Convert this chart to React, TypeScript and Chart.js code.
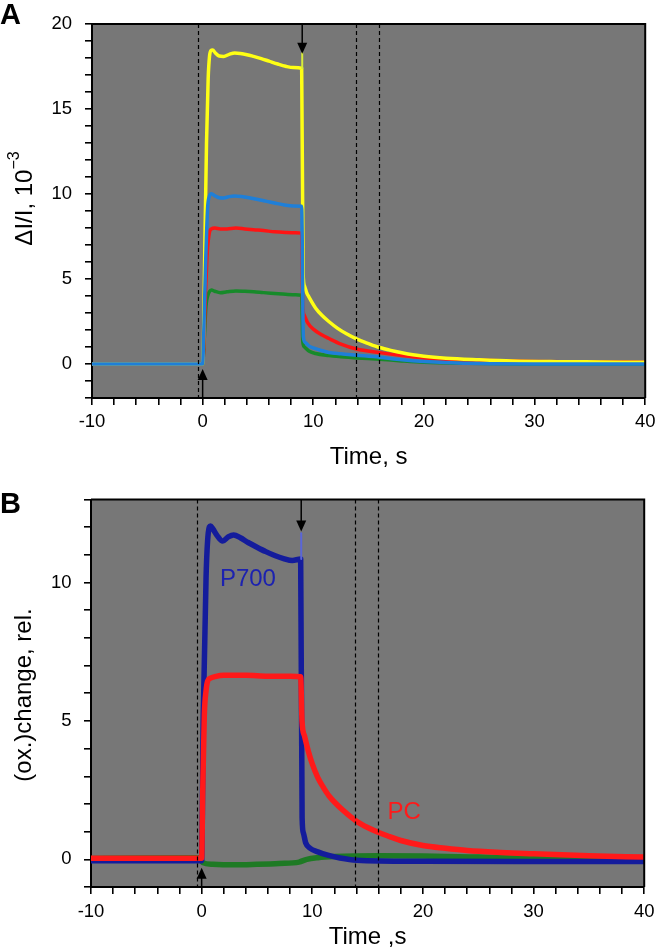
import { useEffect, useRef } from 'react';
import { Chart, registerables } from 'chart.js';

Chart.register(...registerables);

type P = [number, number];

const FONT = '"Liberation Sans", Arial, Helvetica, sans-serif';
const BG = '#777777';

// ---------- Panel A data (time s, ΔI/I ×10^-3) ----------
const yellowA: P[] = [
  [-10, 0], [0, 0], [0.08, 1.5], [0.2, 7], [0.35, 13], [0.5, 16.8], [0.62, 18.1], [0.75, 18.45],
  [0.9, 18.48], [1.15, 18.3], [1.5, 18.12], [1.9, 18.1], [2.4, 18.22], [2.9, 18.3], [3.4, 18.27],
  [4.0, 18.2], [4.6, 18.1], [5.3, 17.97], [6.0, 17.82], [6.8, 17.65], [7.5, 17.52], [8.2, 17.44],
  [8.95, 17.4], [9.08, 5.4], [9.2, 4.6], [9.4, 4.2], [9.6, 3.95], [10.2, 3.3], [10.8, 2.85],
  [11.4, 2.5], [12.2, 2.1], [13.0, 1.78], [13.9, 1.48], [15.0, 1.2], [16.0, 0.97], [17.0, 0.8],
  [18.0, 0.66], [19.0, 0.54], [20.0, 0.45], [22, 0.34], [25, 0.25], [28, 0.18], [32, 0.14],
  [36, 0.12], [40, 0.1],
];
const redA: P[] = [
  [-10, 0], [0, 0], [0.1, 1], [0.25, 4], [0.42, 6.6], [0.6, 7.7], [0.8, 7.95], [1.1, 8.0],
  [1.6, 7.95], [2.2, 7.95], [3.0, 8.0], [3.8, 7.95], [4.6, 7.9], [5.5, 7.85], [6.5, 7.78],
  [7.5, 7.74], [8.4, 7.72], [8.95, 7.7], [9.05, 3.4], [9.2, 2.85], [9.5, 2.42], [10.0, 2.05],
  [10.8, 1.7], [11.4, 1.5], [12.5, 1.17], [13.9, 0.88], [16, 0.67], [18, 0.5], [20, 0.36],
  [22, 0.28], [25, 0.22], [30, 0.15], [35, 0.12], [40, 0.11],
];
const blueA: P[] = [
  [-10, 0], [0, 0], [0.1, 1.8], [0.25, 5.5], [0.45, 9.2], [0.6, 9.85], [0.8, 10.02], [1.1, 9.9],
  [1.5, 9.78], [1.9, 9.77], [2.4, 9.85], [2.9, 9.88], [3.5, 9.85], [4.2, 9.78], [5.0, 9.68],
  [5.8, 9.57], [6.6, 9.46], [7.4, 9.36], [8.2, 9.3], [8.95, 9.28], [9.1, 1.6], [9.3, 1.25],
  [9.6, 1.07], [10.0, 0.95], [10.8, 0.78], [11.4, 0.68], [12.5, 0.6], [13.9, 0.52], [16, 0.4],
  [18, 0.25], [20, 0.15], [23, 0.06], [26, 0.02], [30, 0.0], [40, 0.0],
];
const greenA: P[] = [
  [-10, 0], [0, 0], [0.1, 0.9], [0.3, 3.4], [0.45, 4.0], [0.6, 4.25], [0.8, 4.35], [1.1, 4.28],
  [1.6, 4.2], [2.2, 4.25], [3.0, 4.3], [3.8, 4.28], [4.6, 4.25], [5.5, 4.2], [6.5, 4.15],
  [7.5, 4.1], [8.4, 4.07], [8.95, 4.05], [9.05, 1.3], [9.2, 1.0], [9.6, 0.76], [10.2, 0.62],
  [11.4, 0.5], [12.5, 0.43], [13.9, 0.36], [16, 0.28], [18, 0.18], [20, 0.1], [24, 0.04],
  [30, 0.0], [40, 0.0],
];
const spikeA: P[] = [[9.0, 17.4], [9.0, 18.3]];

// ---------- Panel B data (time s, (ox.)change rel.) ----------
const p700B: P[] = [
  [-10, -0.05], [0, -0.05], [0.15, 5.3], [0.4, 10.2], [0.6, 11.8], [0.8, 12.05], [1.0, 11.95],
  [1.4, 11.7], [1.9, 11.5], [2.4, 11.65], [2.9, 11.72], [3.5, 11.62], [4.2, 11.45], [5.0, 11.28],
  [5.8, 11.12], [6.6, 10.98], [7.4, 10.87], [8.2, 10.8], [8.95, 10.85], [9.08, 1.5], [9.2, 0.95],
  [9.4, 0.6], [9.8, 0.4], [10.5, 0.27], [11.4, 0.15], [12.5, 0.05], [14, -0.03], [20, -0.07],
  [30, -0.08], [40, -0.08],
];
const pcB: P[] = [
  [-10, 0.04], [0, 0.04], [0.1, 2.5], [0.24, 5.2], [0.4, 6.1], [0.55, 6.45], [0.8, 6.55],
  [1.2, 6.6], [2, 6.65], [4, 6.65], [6, 6.62], [8, 6.62], [8.95, 6.6], [9.07, 5.0], [9.3, 4.45],
  [9.65, 3.9], [10.0, 3.45], [10.5, 2.95], [11.0, 2.6], [11.5, 2.3], [12.7, 1.8], [14, 1.38],
  [15, 1.15], [16, 0.97], [17, 0.82], [18, 0.68], [20, 0.5], [22, 0.4], [24, 0.32], [27, 0.25],
  [30, 0.2], [35, 0.13], [40, 0.08],
];
const greenB: P[] = [
  [-10, 0.03], [-5, 0.05], [-0.2, 0.06], [0.1, -0.12], [1, -0.18], [3, -0.2], [5, -0.18],
  [7, -0.15], [8.8, -0.1], [9.5, 0.0], [10.5, 0.06], [12, 0.1], [16, 0.13], [20, 0.12],
  [25, 0.08], [30, 0.03], [40, 0.0],
];
const spikeB: P[] = [[9.0, 10.85], [9.0, 11.78]];

// ---------- axes / annotations ----------
const xLabeled = [-10, 0, 10, 20, 30, 40];
const yLabeledA = [0, 5, 10, 15, 20];
const yLabeledB = [0, 5, 10];
const dashedTimes = [-0.4, 13.9, 15.9];
const arrowsA = [{ x: 0, tip: -0.3, dir: 'up' }, { x: 9, tip: 18.25, dir: 'down' }];
const arrowsB = [{ x: 0, tip: -0.3, dir: 'up' }, { x: 9, tip: 11.85, dir: 'down' }];
const labelsB = [
  { text: 'P700', x: 1.65, y: 9.86, color: '#1c22b0' },
  { text: 'PC', x: 16.8, y: 1.45, color: '#ff1a1a' },
];

const toXY = (a: P[]) => a.map(([x, y]) => ({ x, y }));

function ds(data: P[], color: string, width: number, smooth = true) {
  return {
    data: toXY(data),
    borderColor: color,
    backgroundColor: color,
    borderWidth: width,
    showLine: true,
    pointRadius: 0,
    tension: 0,
    cubicInterpolationMode: smooth ? ('monotone' as const) : ('default' as const),
    fill: false,
    borderJoinStyle: 'round' as const,
    borderCapStyle: 'round' as const,
  };
}

type Opts = {
  datasets: any[];
  yMin: number;
  yMax: number;
  yLabeled: number[];
  padTop: number;
  padRight: number;
  yWidth: number;
  xHeight: number;
  xTitle: string;
  xTitlePad: number;
  xTickPad: number;
  yTickPad: number;
  yTitle: { text: string; size: number; rise: number }[];
  yTitleBase: number;
  yTitleCenter: number;
  letter: string;
  letterY: number;
  arrows: { x: number; tip: number; dir: string }[];
  labels: { text: string; x: number; y: number; color: string }[];
};

function makeChart(canvas: HTMLCanvasElement, o: Opts) {
  const plugin = {
    id: 'decor',
    beforeDraw(chart: any) {
      const { ctx, chartArea: a } = chart;
      ctx.save();
      ctx.fillStyle = BG;
      ctx.fillRect(a.left, a.top, a.right - a.left, a.bottom - a.top);
      ctx.restore();
    },
    afterDatasetsDraw(chart: any) {
      const { ctx, chartArea: a, scales } = chart;
      const xs = scales.x;
      const ys = scales.y;
      ctx.save();
      ctx.strokeStyle = '#000';
      ctx.lineWidth = 1.2;
      ctx.setLineDash([4, 3]);
      for (const t of dashedTimes) {
        const px = Math.round(xs.getPixelForValue(t)) + 0.5;
        ctx.beginPath();
        ctx.moveTo(px, a.top);
        ctx.lineTo(px, a.bottom);
        ctx.stroke();
      }
      ctx.setLineDash([]);
      ctx.fillStyle = '#000';
      ctx.lineWidth = 1.5;
      for (const ar of o.arrows) {
        const px = xs.getPixelForValue(ar.x);
        const tip = ys.getPixelForValue(ar.tip);
        const head = 11;
        const hw = 5;
        ctx.beginPath();
        if (ar.dir === 'up') {
          ctx.moveTo(px, a.bottom);
          ctx.lineTo(px, tip + head - 1);
        } else {
          ctx.moveTo(px, a.top);
          ctx.lineTo(px, tip - head + 1);
        }
        ctx.stroke();
        ctx.beginPath();
        if (ar.dir === 'up') {
          ctx.moveTo(px, tip);
          ctx.lineTo(px - hw, tip + head);
          ctx.lineTo(px + hw, tip + head);
        } else {
          ctx.moveTo(px, tip);
          ctx.lineTo(px - hw, tip - head);
          ctx.lineTo(px + hw, tip - head);
        }
        ctx.closePath();
        ctx.fill();
      }
      ctx.font = `24px ${FONT}`;
      ctx.textAlign = 'left';
      ctx.textBaseline = 'alphabetic';
      for (const lb of o.labels) {
        ctx.fillStyle = lb.color;
        ctx.fillText(lb.text, xs.getPixelForValue(lb.x), ys.getPixelForValue(lb.y));
      }
      ctx.restore();
    },
    afterDraw(chart: any) {
      const { ctx, chartArea: a } = chart;
      ctx.save();
      ctx.strokeStyle = '#000';
      ctx.lineWidth = 2;
      ctx.beginPath();
      ctx.moveTo(a.left, a.top);
      ctx.lineTo(a.right, a.top);
      ctx.lineTo(a.right, a.bottom);
      ctx.stroke();
      ctx.fillStyle = '#000';
      ctx.textAlign = 'left';
      ctx.textBaseline = 'alphabetic';
      let total = 0;
      const widths: number[] = [];
      for (const part of o.yTitle) {
        ctx.font = `${part.size}px ${FONT}`;
        const w = ctx.measureText(part.text).width;
        widths.push(w);
        total += w;
      }
      ctx.translate(o.yTitleBase, o.yTitleCenter);
      ctx.rotate(-Math.PI / 2);
      let x = -total / 2;
      o.yTitle.forEach((part, i) => {
        ctx.font = `${part.size}px ${FONT}`;
        ctx.fillText(part.text, x, -part.rise);
        x += widths[i];
      });
      const dpr = chart.currentDevicePixelRatio || 1;
      ctx.setTransform(dpr, 0, 0, dpr, 0, 0);
      ctx.font = `bold 29px ${FONT}`;
      ctx.fillText(o.letter, 0, o.letterY);
      ctx.restore();
    },
  };

  return new Chart(canvas, {
    type: 'scatter',
    data: { datasets: o.datasets },
    options: {
      animation: false,
      responsive: false,
      events: [],
      layout: { padding: { top: o.padTop, right: o.padRight, left: 0, bottom: 0 } },
      plugins: { legend: { display: false }, tooltip: { enabled: false } },
      scales: {
        x: {
          type: 'linear',
          position: 'bottom',
          min: -10,
          max: 40,
          afterFit: (s: any) => {
            s.height = o.xHeight;
          },
          ticks: {
            stepSize: 2,
            autoSkip: false,
            maxRotation: 0,
            padding: o.xTickPad,
            color: '#000',
            font: { family: FONT, size: 18.5 },
            callback: (v: any) => (xLabeled.includes(Number(v)) ? String(v) : ''),
          },
          grid: { drawOnChartArea: false, drawTicks: true, tickLength: 7, color: '#000', lineWidth: 1.6 },
          border: { display: true, color: '#000', width: 2 },
          title: {
            display: true,
            text: o.xTitle,
            color: '#000',
            font: { family: FONT, size: 24, lineHeight: 1 },
            padding: { top: 0, bottom: o.xTitlePad },
          },
        },
        y: {
          type: 'linear',
          position: 'left',
          min: o.yMin,
          max: o.yMax,
          afterFit: (s: any) => {
            s.width = o.yWidth;
          },
          ticks: {
            stepSize: 1,
            autoSkip: false,
            padding: o.yTickPad,
            color: '#000',
            font: { family: FONT, size: 18.5 },
            callback: (v: any) => (o.yLabeled.includes(Number(v)) ? String(v) : ''),
          },
          grid: { drawOnChartArea: false, drawTicks: true, tickLength: 7, color: '#000', lineWidth: 1.6 },
          border: { display: true, color: '#000', width: 2 },
        },
      },
    },
    plugins: [plugin],
  } as any);
}

export default function App() {
  const refA = useRef<HTMLCanvasElement>(null);
  const refB = useRef<HTMLCanvasElement>(null);

  useEffect(() => {
    const a = makeChart(refA.current!, {
      datasets: [
        ds(blueA, '#1f7fd8', 3.5),
        ds(spikeA, '#d8ec3a', 2, false),
        ds(yellowA, '#ffff14', 3.5),
        ds(redA, '#ff1414', 3.5),
        ds(greenA, '#178a2a', 3.5),
      ],
      yMin: -2,
      yMax: 20,
      yLabeled: yLabeledA,
      padTop: 10,
      padRight: 12,
      yWidth: 92,
      xHeight: 78,
      xTitle: 'Time, s',
      xTitlePad: 7,
      xTickPad: 5.5,
      yTickPad: 13,
      yTitle: [
        { text: 'ΔI/I, 10', size: 24, rise: 0 },
        { text: '−3', size: 16, rise: 13 },
      ],
      yTitleBase: 32,
      yTitleCenter: 198.5,
      letter: 'A',
      letterY: 24,
      arrows: arrowsA,
      labels: [],
    });
    const b = makeChart(refB.current!, {
      datasets: [
        ds(pcB, '#ff1a1a', 5.5),
        ds(spikeB, '#5a66d8', 2, false),
        ds(p700B, '#141c9c', 5.5),
        ds(greenB, '#1e7a24', 5.5),
      ],
      yMin: -1,
      yMax: 13,
      yLabeled: yLabeledB,
      padTop: 23,
      padRight: 13,
      yWidth: 91,
      xHeight: 64,
      xTitle: 'Time ,s',
      xTitlePad: 1.5,
      xTickPad: 6.5,
      yTickPad: 12.5,
      yTitle: [{ text: '(ox.)change, rel.', size: 24, rise: 0 }],
      yTitleBase: 31,
      yTitleCenter: 219,
      letter: 'B',
      letterY: 37,
      arrows: arrowsB,
      labels: labelsB,
    });
    return () => {
      a.destroy();
      b.destroy();
    };
  }, []);

  return (
    <div style={{ position: 'absolute', left: 0, top: 0, width: 661, height: 951, background: '#fff' }}>
      <canvas ref={refA} width={661} height={476} style={{ position: 'absolute', left: 0, top: 0, width: 661, height: 476 }} />
      <canvas ref={refB} width={661} height={475} style={{ position: 'absolute', left: 0, top: 476, width: 661, height: 475 }} />
    </div>
  );
}
